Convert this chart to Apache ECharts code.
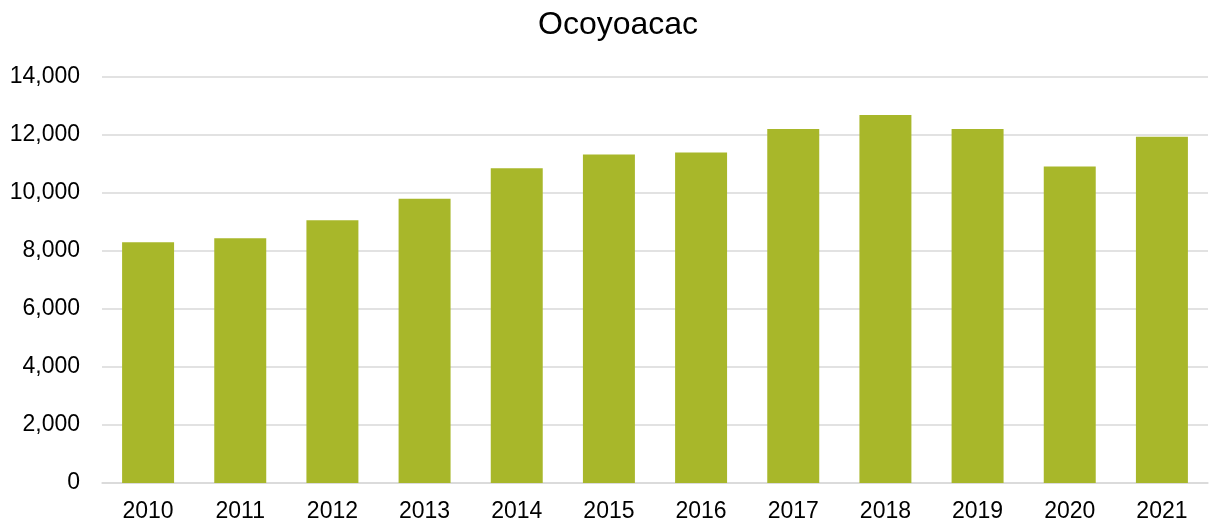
<!DOCTYPE html>
<html>
<head>
<meta charset="utf-8">
<script src="https://cdn.jsdelivr.net/npm/echarts@6/dist/echarts.min.js"></script>
<style>html,body{margin:0;padding:0;background:#fff;}#c{width:1209px;height:525px;}</style>
</head>
<body>
<div id="c"></div>
<script>
const categories = ['2010','2011','2012','2013','2014','2015','2016','2017','2018','2019','2020','2021'];
const values = [8300, 8440, 9060, 9800, 10850, 11330, 11400, 12210, 12690, 12210, 10910, 11940];
const title = 'Ocoyoacac';

const chart = echarts.init(document.getElementById('c'), null, {renderer: 'canvas'});
chart.setOption({
  animation: false,
  backgroundColor: '#ffffff',
  title: {
    text: title, left: 538, top: 9, padding: 0,
    textStyle: {fontFamily: 'Liberation Sans, Arial, sans-serif', fontSize: 32, fontWeight: 'normal', color: '#000'}
  },
  grid: {left: 102, right: 1, top: 77, bottom: 42},
  xAxis: {
    type: 'category', data: categories,
    axisLine: {lineStyle: {color: '#d9d9d9', width: 1.5}},
    axisTick: {show: false},
    axisLabel: {fontFamily: 'Liberation Sans, Arial, sans-serif', fontSize: 23, color: '#000', margin: 17}
  },
  yAxis: {
    type: 'value', min: 0, max: 14000, interval: 2000,
    axisLine: {show: false}, axisTick: {show: false},
    splitLine: {lineStyle: {color: '#d9d9d9', width: 1.5}},
    axisLabel: {
      fontFamily: 'Liberation Sans, Arial, sans-serif', fontSize: 23, color: '#000', margin: 22,
      formatter: v => v.toLocaleString('en-US')
    }
  },
  series: [{
    type: 'bar', data: values, barWidth: '56.4%',
    itemStyle: {color: '#a8b72a'}
  }]
});
</script>
</body>
</html>
